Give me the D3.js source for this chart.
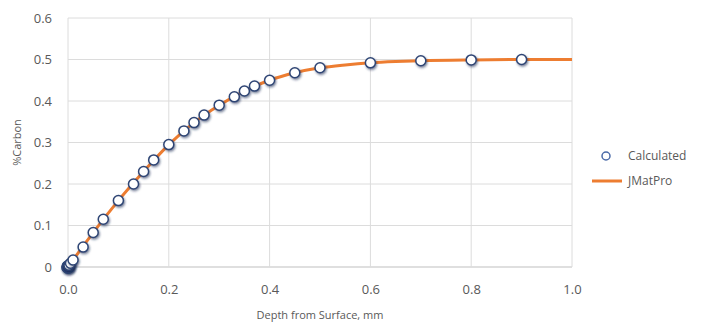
<!DOCTYPE html>
<html>
<head>
<meta charset="utf-8">
<script src="https://cdn.jsdelivr.net/npm/d3@7"></script>
<style>
  body { margin: 0; background: #fff; }
  text { font-family: "Open Sans", "Liberation Sans", sans-serif; fill: #595959; }
</style>
</head>
<body>
<div id="chart"></div>
<script>
// Calculated points (depth mm, %C)
var calcDepth = [0.0, 0.0, 0.002, 0.005, 0.01, 0.03, 0.05, 0.07, 0.10, 0.13, 0.15, 0.17, 0.20, 0.23, 0.25, 0.27, 0.30, 0.33, 0.35, 0.37, 0.40, 0.45, 0.50, 0.60, 0.70, 0.80, 0.90];
var calcCarbon = [0.0, 0.0, 0.004, 0.009, 0.017, 0.048, 0.083, 0.115, 0.160, 0.200, 0.230, 0.258, 0.295, 0.328, 0.348, 0.366, 0.390, 0.410, 0.424, 0.436, 0.450, 0.468, 0.480, 0.492, 0.497, 0.499, 0.500];

// JMatPro curve
var lineDepth = [0.0, 0.05, 0.10, 0.15, 0.20, 0.25, 0.30, 0.35, 0.40, 0.45, 0.50, 0.55, 0.60, 0.65, 0.70, 0.80, 0.90, 1.0];
var lineCarbon = [0.0, 0.083, 0.160, 0.230, 0.295, 0.348, 0.390, 0.424, 0.450, 0.468, 0.480, 0.487, 0.492, 0.495, 0.497, 0.499, 0.500, 0.500];

var xTicks = [0, 0.2, 0.4, 0.6, 0.8, 1.0];
var yTicks = [0, 0.1, 0.2, 0.3, 0.4, 0.5, 0.6];
var seriesNames = ["Calculated", "JMatPro"];

var W = 703, H = 327;
var margin = {top: 18, right: 131, bottom: 60, left: 68},
    width = W - margin.left - margin.right,
    height = H - margin.top - margin.bottom;

var svgRoot = d3.select("#chart").append("svg")
    .attr("width", W)
    .attr("height", H);

// soft shadow for markers
var defs = svgRoot.append("defs");
var f = defs.append("filter").attr("id", "shadow")
    .attr("x", "-50%").attr("y", "-50%").attr("width", "200%").attr("height", "200%");
f.append("feDropShadow").attr("dx", 1).attr("dy", 1.5).attr("stdDeviation", 1.2)
    .attr("flood-color", "#1f2f55").attr("flood-opacity", 0.6);

var svg = svgRoot.append("g")
    .attr("transform", "translate(" + margin.left + "," + margin.top + ")");

var x = d3.scaleLinear().domain([0, 1]).range([0, width]);
var y = d3.scaleLinear().domain([0, 0.6]).range([height, 0]);

// grid
svg.append("g").selectAll("line.h").data(yTicks).enter().append("line")
    .attr("x1", 0).attr("x2", width)
    .attr("y1", function(d) { return y(d); })
    .attr("y2", function(d) { return y(d); })
    .attr("stroke", function(d) { return d === 0 ? "#bfbfbf" : "#dcdcdc"; })
    .attr("stroke-width", 1);

svg.append("g").selectAll("line.v").data(xTicks).enter().append("line")
    .attr("y1", 0).attr("y2", height)
    .attr("x1", function(d) { return x(d); })
    .attr("x2", function(d) { return x(d); })
    .attr("stroke", "#dcdcdc")
    .attr("stroke-width", 1);

// axes (labels only)
var xAxis = svg.append("g")
    .attr("transform", "translate(0," + height + ")")
    .call(d3.axisBottom(x).tickValues(xTicks).tickFormat(d3.format(".1f")).tickSize(0).tickPadding(18));
xAxis.select(".domain").remove();
xAxis.selectAll("text").style("font-size", "13px").style("fill", "#595959");

var yAxis = svg.append("g")
    .call(d3.axisLeft(y).tickValues(yTicks).tickFormat(function(d) { return d === 0 ? "0" : d3.format(".1f")(d); }).tickSize(0).tickPadding(16));
yAxis.select(".domain").remove();
yAxis.selectAll("text").style("font-size", "13px").style("fill", "#595959");

// axis titles
svg.append("text")
    .attr("x", width / 2)
    .attr("y", height + 52)
    .style("text-anchor", "middle")
    .style("font-size", "11px")
    .text("Depth from Surface, mm");

svg.append("text")
    .attr("transform", "rotate(-90)")
    .attr("x", -height / 2)
    .attr("y", -47)
    .style("text-anchor", "middle")
    .style("font-size", "11px")
    .text("%Carbon");

// JMatPro line
var lineData = lineDepth.map(function(d, i) { return {x: d, y: lineCarbon[i]}; });
var valueline = d3.line()
    .x(function(d) { return x(d.x); })
    .y(function(d) { return y(d.y); })
    .curve(d3.curveMonotoneX);

svg.append("path")
    .datum(lineData)
    .attr("d", valueline)
    .attr("fill", "none")
    .attr("stroke", "#ED7D31")
    .attr("stroke-width", 3);

// Calculated markers (points stacked at the surface render as a dark blob)
var calcData = calcDepth.map(function(d, i) { return {x: d, y: calcCarbon[i]}; });
svg.append("g").selectAll("circle").data(calcData).enter().append("circle")
    .attr("cx", function(d) { return x(d.x); })
    .attr("cy", function(d) { return y(d.y); })
    .attr("r", function(d) { return d.x === 0 ? 6 : 5; })
    .attr("fill", function(d) { return d.x === 0 ? "#25396a" : "#ffffff"; })
    .attr("stroke", "#2f4574")
    .attr("stroke-width", 1.5)
    .attr("filter", "url(#shadow)");

// legend
var legend = svgRoot.append("g").attr("transform", "translate(592,0)");
legend.append("circle")
    .attr("cx", 14).attr("cy", 156).attr("r", 4)
    .attr("fill", "#fff").attr("stroke", "#4a6aa8").attr("stroke-width", 1.5);
legend.append("text")
    .attr("x", 36).attr("y", 160)
    .style("font-size", "12px")
    .text(seriesNames[0]);
legend.append("line")
    .attr("x1", 0).attr("x2", 30).attr("y1", 181).attr("y2", 181)
    .attr("stroke", "#ED7D31").attr("stroke-width", 3);
legend.append("text")
    .attr("x", 36).attr("y", 185)
    .style("font-size", "12px")
    .text(seriesNames[1]);
</script>
</body>
</html>
